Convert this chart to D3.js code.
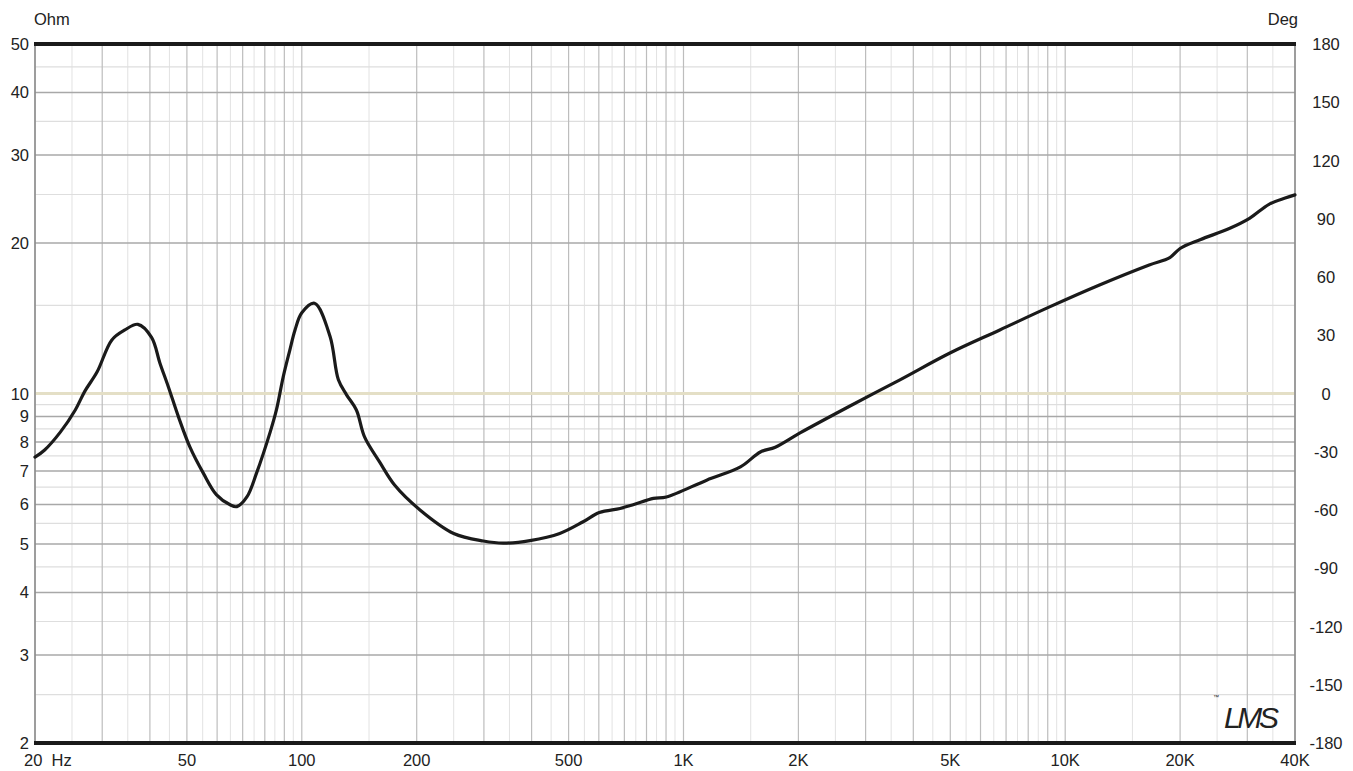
<!DOCTYPE html>
<html>
<head>
<meta charset="utf-8">
<script src="https://cdn.jsdelivr.net/npm/d3@7"></script>
<style>
  html, body { margin: 0; padding: 0; background: #fff; }
  svg { display: block; }
  text { font-family: "Liberation Sans", Arial, sans-serif; fill: #222; }
</style>
</head>
<body>
<svg id="chart" width="1353" height="771"></svg>
<script>
// ---- Data ----
const freqHz = [20, 21.2, 23.3, 25.5, 27.0, 29.1, 31.8, 34.4, 37.2, 40.4, 42.5, 44.7, 47.5, 50.9, 55.2, 59.8, 64.9, 67.6, 71.8, 76.1, 82.7, 85.8, 89.4, 93, 96, 100, 108, 118.6, 124.7, 131, 139, 146, 160, 175, 204, 250, 299, 337, 396, 474, 546, 602, 682, 738, 834, 902, 1150, 1410, 1590, 1740, 2020, 2730, 3690, 4990, 6740, 9100, 12300, 16600, 18800, 20000, 22560, 27000, 30400, 34200, 37700, 40000];
const impedanceOhm = [7.46, 7.71, 8.37, 9.27, 10.1, 11.05, 12.8, 13.4, 13.75, 12.95, 11.5, 10.32, 8.99, 7.82, 6.93, 6.27, 5.99, 5.94, 6.21, 6.93, 8.39, 9.27, 10.8, 12.2, 13.4, 14.5, 15.15, 13.0, 10.65, 9.94, 9.27, 8.19, 7.29, 6.56, 5.85, 5.25, 5.07, 5.02, 5.08, 5.25, 5.54, 5.78, 5.89, 5.99, 6.17, 6.21, 6.71, 7.13, 7.64, 7.81, 8.34, 9.44, 10.65, 12.05, 13.4, 14.9, 16.48, 18.07, 18.7, 19.5, 20.3, 21.4, 22.4, 23.9, 24.6, 24.96];

const xTickValues = [20, 50, 100, 200, 500, 1000, 2000, 5000, 10000, 20000, 40000];
const xTickLabels = ["20  Hz", "50", "100", "200", "500", "1K", "2K", "5K", "10K", "20K", "40K"];
const yTickValues = [2, 3, 4, 5, 6, 7, 8, 9, 10, 20, 30, 40, 50];
const yMinorValues = [2.5, 3.5, 4.5, 5.5, 6.5, 7.5, 8.5, 9.5, 15, 25, 35, 45];
const degTickValues = [180, 150, 120, 90, 60, 30, 0, -30, -60, -90, -120, -150, -180];

// ---- Layout ----
const pL = 35, pR = 1295, pT = 44, pB = 743;
const svg = d3.select("#chart");

const x = d3.scaleLog().domain([20, 40000]).range([pL, pR]);
const y = d3.scaleLog().domain([2, 50]).range([pB, pT]);
const yDeg = d3.scaleLinear().domain([-180, 180]).range([pB, pT]);

// vertical grid: majors at 1..9 x decade, minors at half steps
const vMajor = [], vMinor = [];
for (let dec = 10; dec <= 10000; dec *= 10) {
  for (let m = 1; m <= 9; m++) {
    const f = m * dec;
    if (f >= 20 && f <= 40000) vMajor.push(f);
    const h = (m + 0.5) * dec;
    if (h > 20 && h < 40000) vMinor.push(h);
  }
}

const g = svg.append("g");

g.selectAll("line.vminor").data(vMinor).enter().append("line")
  .attr("x1", d => x(d)).attr("x2", d => x(d))
  .attr("y1", pT).attr("y2", pB)
  .attr("stroke", "#e2e2e2").attr("stroke-width", 1);

g.selectAll("line.hminor").data(yMinorValues).enter().append("line")
  .attr("x1", pL).attr("x2", pR)
  .attr("y1", d => y(d)).attr("y2", d => y(d))
  .attr("stroke", "#dedede").attr("stroke-width", 1.2);

g.selectAll("line.vmajor").data(vMajor).enter().append("line")
  .attr("x1", d => x(d)).attr("x2", d => x(d))
  .attr("y1", pT).attr("y2", pB)
  .attr("stroke", "#bdbdbd").attr("stroke-width", 1.2);

g.selectAll("line.hmajor").data(yTickValues.filter(v => v !== 10 && v !== 2 && v !== 50)).enter().append("line")
  .attr("x1", pL).attr("x2", pR)
  .attr("y1", d => y(d)).attr("y2", d => y(d))
  .attr("stroke", "#a8a8a8").attr("stroke-width", 1.5);

// 10 ohm reference (beige)
g.append("line")
  .attr("x1", pL).attr("x2", pR)
  .attr("y1", y(10)).attr("y2", y(10))
  .attr("stroke", "#e4dfc6").attr("stroke-width", 3);

// side borders
[pL, pR].forEach(px => {
  g.append("line").attr("x1", px).attr("x2", px).attr("y1", pT).attr("y2", pB)
    .attr("stroke", "#8a8a8a").attr("stroke-width", 1.5);
});
// top & bottom thick lines
[pT, pB].forEach(py => {
  g.append("line").attr("x1", pL - 1).attr("x2", pR + 1).attr("y1", py).attr("y2", py)
    .attr("stroke", "#1a1a1a").attr("stroke-width", 4);
});

// ---- Impedance curve ----
const data = freqHz.map((f, i) => [f, impedanceOhm[i]]);
const line = d3.line().x(d => x(d[0])).y(d => y(d[1])).curve(d3.curveCatmullRom.alpha(0.5));
g.append("path").datum(data).attr("d", line)
  .attr("fill", "none").attr("stroke", "#1a1a1a").attr("stroke-width", 3.2)
  .attr("stroke-linejoin", "round").attr("stroke-linecap", "round");

// ---- Axis labels ----
const fs = 16.5;
g.selectAll("text.yl").data(yTickValues).enter().append("text")
  .attr("x", 29).attr("y", d => y(d) + 6)
  .attr("text-anchor", "end").attr("font-size", fs).text(d => d);

g.selectAll("text.yr").data(degTickValues).enter().append("text")
  .attr("x", 1326).attr("y", d => yDeg(d) + 6)
  .attr("text-anchor", "middle").attr("font-size", fs).text(d => d);

g.selectAll("text.xl").data(xTickValues).enter().append("text")
  .attr("x", (d, i) => i === 0 ? 24 : x(d))
  .attr("y", 766)
  .attr("text-anchor", (d, i) => i === 0 ? "start" : "middle")
  .attr("font-size", fs)
  .attr("xml:space", "preserve")
  .style("white-space", "pre")
  .text((d, i) => xTickLabels[i]);

g.append("text").attr("x", 34).attr("y", 25).attr("font-size", fs).text("Ohm");
g.append("text").attr("x", 1298).attr("y", 25).attr("text-anchor", "end").attr("font-size", fs).text("Deg");

// LMS logo
g.append("text").attr("x", 1213).attr("y", 699).attr("font-size", 6).text("™");
g.append("text").attr("x", 1224).attr("y", 728)
  .attr("font-size", 30).attr("font-style", "italic")
  .attr("font-family", "DejaVu Serif, serif").attr("letter-spacing", "1")
  .attr("textLength", 56).text("LMS");
</script>
</body>
</html>
